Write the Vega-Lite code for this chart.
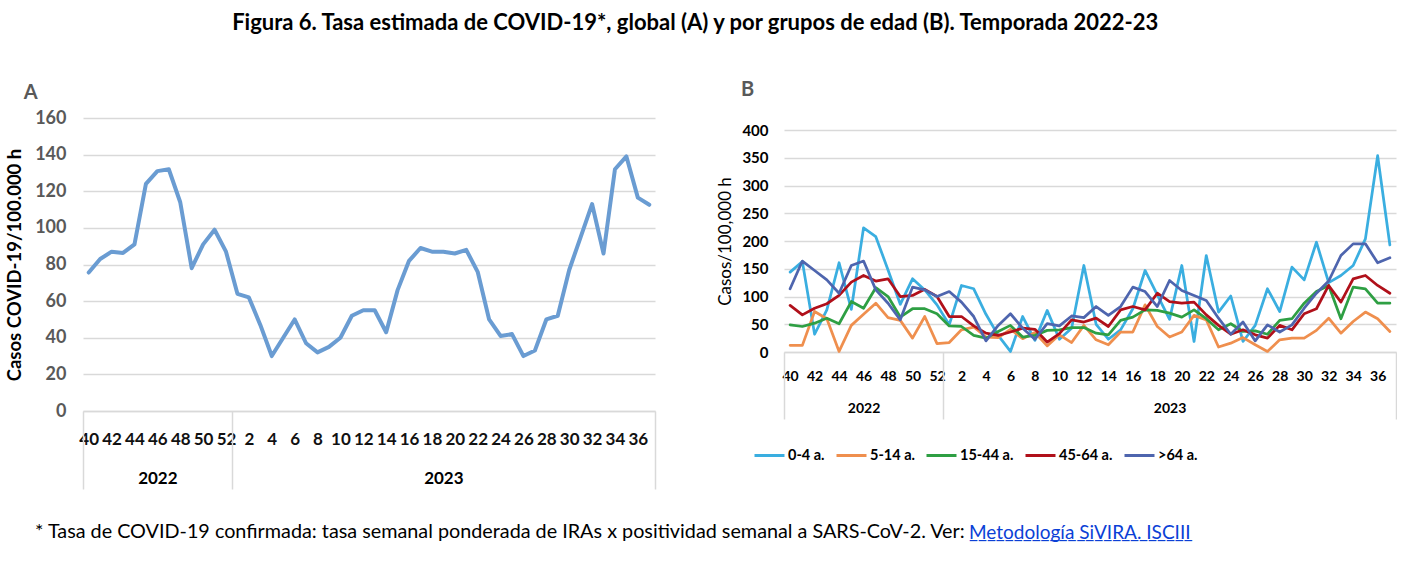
{
  "$schema": "https://vega.github.io/schema/vega-lite/v6.json",
  "padding": {"left": 5, "top": 12, "right": 0, "bottom": 0},
  "config": {
    "font": "Lato",
    "view": {"stroke": null}
  },
  "title": {
    "text": "Figura 6. Tasa estimada de COVID-19*, global (A) y por grupos de edad (B). Temporada 2022-23",
    "fontSize": 22,
    "fontWeight": "bold",
    "color": "#000000",
    "anchor": "middle",
    "dx": -6,
    "offset": 45
  },
  "spacing": 20,
  "resolve": {"scale": {"color": "independent"}, "legend": {"color": "independent"}},
  "datasets": {
    "global": [
      {"idx": 0, "tasa": 75.6}, {"idx": 1, "tasa": 83}, {"idx": 2, "tasa": 87}, {"idx": 3, "tasa": 86.3},
      {"idx": 4, "tasa": 91}, {"idx": 5, "tasa": 124}, {"idx": 6, "tasa": 131}, {"idx": 7, "tasa": 132},
      {"idx": 8, "tasa": 114}, {"idx": 9, "tasa": 78}, {"idx": 10, "tasa": 91}, {"idx": 11, "tasa": 99},
      {"idx": 12, "tasa": 87}, {"idx": 13, "tasa": 64}, {"idx": 14, "tasa": 62}, {"idx": 15, "tasa": 47},
      {"idx": 16, "tasa": 30}, {"idx": 17, "tasa": 40}, {"idx": 18, "tasa": 50}, {"idx": 19, "tasa": 37},
      {"idx": 20, "tasa": 32}, {"idx": 21, "tasa": 35}, {"idx": 22, "tasa": 40}, {"idx": 23, "tasa": 52},
      {"idx": 24, "tasa": 55}, {"idx": 25, "tasa": 55}, {"idx": 26, "tasa": 43}, {"idx": 27, "tasa": 66},
      {"idx": 28, "tasa": 82}, {"idx": 29, "tasa": 89}, {"idx": 30, "tasa": 87}, {"idx": 31, "tasa": 87},
      {"idx": 32, "tasa": 86}, {"idx": 33, "tasa": 88}, {"idx": 34, "tasa": 76}, {"idx": 35, "tasa": 50},
      {"idx": 36, "tasa": 41}, {"idx": 37, "tasa": 42}, {"idx": 38, "tasa": 30}, {"idx": 39, "tasa": 33},
      {"idx": 40, "tasa": 50}, {"idx": 41, "tasa": 52}, {"idx": 42, "tasa": 77}, {"idx": 43, "tasa": 95},
      {"idx": 44, "tasa": 113}, {"idx": 45, "tasa": 86}, {"idx": 46, "tasa": 132}, {"idx": 47, "tasa": 139},
      {"idx": 48, "tasa": 116.5}, {"idx": 49, "tasa": 112.6}
    ],
    "edad": [
      {"idx":0,"grupo":"0-4 a.","tasa":144},{"idx":1,"grupo":"0-4 a.","tasa":163},{"idx":2,"grupo":"0-4 a.","tasa":32},{"idx":3,"grupo":"0-4 a.","tasa":76},{"idx":4,"grupo":"0-4 a.","tasa":161},
      {"idx":5,"grupo":"0-4 a.","tasa":77},{"idx":6,"grupo":"0-4 a.","tasa":224},{"idx":7,"grupo":"0-4 a.","tasa":208},{"idx":8,"grupo":"0-4 a.","tasa":148},{"idx":9,"grupo":"0-4 a.","tasa":86},
      {"idx":10,"grupo":"0-4 a.","tasa":132},{"idx":11,"grupo":"0-4 a.","tasa":112},{"idx":12,"grupo":"0-4 a.","tasa":85},{"idx":13,"grupo":"0-4 a.","tasa":49},{"idx":14,"grupo":"0-4 a.","tasa":120},
      {"idx":15,"grupo":"0-4 a.","tasa":114},{"idx":16,"grupo":"0-4 a.","tasa":68},{"idx":17,"grupo":"0-4 a.","tasa":30},{"idx":18,"grupo":"0-4 a.","tasa":1},{"idx":19,"grupo":"0-4 a.","tasa":64},
      {"idx":20,"grupo":"0-4 a.","tasa":21},{"idx":21,"grupo":"0-4 a.","tasa":75},{"idx":22,"grupo":"0-4 a.","tasa":23},{"idx":23,"grupo":"0-4 a.","tasa":43},{"idx":24,"grupo":"0-4 a.","tasa":156},
      {"idx":25,"grupo":"0-4 a.","tasa":50},{"idx":26,"grupo":"0-4 a.","tasa":23},{"idx":27,"grupo":"0-4 a.","tasa":40},{"idx":28,"grupo":"0-4 a.","tasa":78},{"idx":29,"grupo":"0-4 a.","tasa":147},
      {"idx":30,"grupo":"0-4 a.","tasa":103},{"idx":31,"grupo":"0-4 a.","tasa":59},{"idx":32,"grupo":"0-4 a.","tasa":156},{"idx":33,"grupo":"0-4 a.","tasa":19},{"idx":34,"grupo":"0-4 a.","tasa":174},
      {"idx":35,"grupo":"0-4 a.","tasa":72},{"idx":36,"grupo":"0-4 a.","tasa":101},{"idx":37,"grupo":"0-4 a.","tasa":19},{"idx":38,"grupo":"0-4 a.","tasa":48},{"idx":39,"grupo":"0-4 a.","tasa":114},
      {"idx":40,"grupo":"0-4 a.","tasa":73},{"idx":41,"grupo":"0-4 a.","tasa":153},{"idx":42,"grupo":"0-4 a.","tasa":130},{"idx":43,"grupo":"0-4 a.","tasa":198},{"idx":44,"grupo":"0-4 a.","tasa":125},
      {"idx":45,"grupo":"0-4 a.","tasa":138},{"idx":46,"grupo":"0-4 a.","tasa":156},{"idx":47,"grupo":"0-4 a.","tasa":204},{"idx":48,"grupo":"0-4 a.","tasa":354},{"idx":49,"grupo":"0-4 a.","tasa":193},
      {"idx":0,"grupo":"5-14 a.","tasa":12},{"idx":1,"grupo":"5-14 a.","tasa":12},{"idx":2,"grupo":"5-14 a.","tasa":73},{"idx":3,"grupo":"5-14 a.","tasa":60},{"idx":4,"grupo":"5-14 a.","tasa":1},
      {"idx":5,"grupo":"5-14 a.","tasa":48},{"idx":6,"grupo":"5-14 a.","tasa":68},{"idx":7,"grupo":"5-14 a.","tasa":88},{"idx":8,"grupo":"5-14 a.","tasa":62},{"idx":9,"grupo":"5-14 a.","tasa":57},
      {"idx":10,"grupo":"5-14 a.","tasa":25},{"idx":11,"grupo":"5-14 a.","tasa":64},{"idx":12,"grupo":"5-14 a.","tasa":15},{"idx":13,"grupo":"5-14 a.","tasa":17},{"idx":14,"grupo":"5-14 a.","tasa":40},
      {"idx":15,"grupo":"5-14 a.","tasa":45},{"idx":16,"grupo":"5-14 a.","tasa":27},{"idx":17,"grupo":"5-14 a.","tasa":26},{"idx":18,"grupo":"5-14 a.","tasa":41},{"idx":19,"grupo":"5-14 a.","tasa":24},
      {"idx":20,"grupo":"5-14 a.","tasa":35},{"idx":21,"grupo":"5-14 a.","tasa":11},{"idx":22,"grupo":"5-14 a.","tasa":31},{"idx":23,"grupo":"5-14 a.","tasa":17},{"idx":24,"grupo":"5-14 a.","tasa":48},
      {"idx":25,"grupo":"5-14 a.","tasa":22},{"idx":26,"grupo":"5-14 a.","tasa":13},{"idx":27,"grupo":"5-14 a.","tasa":36},{"idx":28,"grupo":"5-14 a.","tasa":36},{"idx":29,"grupo":"5-14 a.","tasa":85},
      {"idx":30,"grupo":"5-14 a.","tasa":46},{"idx":31,"grupo":"5-14 a.","tasa":27},{"idx":32,"grupo":"5-14 a.","tasa":36},{"idx":33,"grupo":"5-14 a.","tasa":66},{"idx":34,"grupo":"5-14 a.","tasa":58},
      {"idx":35,"grupo":"5-14 a.","tasa":9},{"idx":36,"grupo":"5-14 a.","tasa":16},{"idx":37,"grupo":"5-14 a.","tasa":26},{"idx":38,"grupo":"5-14 a.","tasa":13},{"idx":39,"grupo":"5-14 a.","tasa":1},
      {"idx":40,"grupo":"5-14 a.","tasa":22},{"idx":41,"grupo":"5-14 a.","tasa":25},{"idx":42,"grupo":"5-14 a.","tasa":25},{"idx":43,"grupo":"5-14 a.","tasa":39},{"idx":44,"grupo":"5-14 a.","tasa":61},
      {"idx":45,"grupo":"5-14 a.","tasa":34},{"idx":46,"grupo":"5-14 a.","tasa":55},{"idx":47,"grupo":"5-14 a.","tasa":72},{"idx":48,"grupo":"5-14 a.","tasa":60},{"idx":49,"grupo":"5-14 a.","tasa":37},
      {"idx":0,"grupo":"15-44 a.","tasa":49},{"idx":1,"grupo":"15-44 a.","tasa":46},{"idx":2,"grupo":"15-44 a.","tasa":52},{"idx":3,"grupo":"15-44 a.","tasa":61},{"idx":4,"grupo":"15-44 a.","tasa":51},
      {"idx":5,"grupo":"15-44 a.","tasa":91},{"idx":6,"grupo":"15-44 a.","tasa":79},{"idx":7,"grupo":"15-44 a.","tasa":116},{"idx":8,"grupo":"15-44 a.","tasa":100},{"idx":9,"grupo":"15-44 a.","tasa":63},
      {"idx":10,"grupo":"15-44 a.","tasa":78},{"idx":11,"grupo":"15-44 a.","tasa":78},{"idx":12,"grupo":"15-44 a.","tasa":69},{"idx":13,"grupo":"15-44 a.","tasa":47},{"idx":14,"grupo":"15-44 a.","tasa":46},
      {"idx":15,"grupo":"15-44 a.","tasa":30},{"idx":16,"grupo":"15-44 a.","tasa":25},{"idx":17,"grupo":"15-44 a.","tasa":37},{"idx":18,"grupo":"15-44 a.","tasa":48},{"idx":19,"grupo":"15-44 a.","tasa":27},
      {"idx":20,"grupo":"15-44 a.","tasa":30},{"idx":21,"grupo":"15-44 a.","tasa":39},{"idx":22,"grupo":"15-44 a.","tasa":40},{"idx":23,"grupo":"15-44 a.","tasa":44},{"idx":24,"grupo":"15-44 a.","tasa":44},
      {"idx":25,"grupo":"15-44 a.","tasa":34},{"idx":26,"grupo":"15-44 a.","tasa":31},{"idx":27,"grupo":"15-44 a.","tasa":57},{"idx":28,"grupo":"15-44 a.","tasa":63},{"idx":29,"grupo":"15-44 a.","tasa":76},
      {"idx":30,"grupo":"15-44 a.","tasa":75},{"idx":31,"grupo":"15-44 a.","tasa":70},{"idx":32,"grupo":"15-44 a.","tasa":63},{"idx":33,"grupo":"15-44 a.","tasa":76},{"idx":34,"grupo":"15-44 a.","tasa":60},
      {"idx":35,"grupo":"15-44 a.","tasa":40},{"idx":36,"grupo":"15-44 a.","tasa":51},{"idx":37,"grupo":"15-44 a.","tasa":37},{"idx":38,"grupo":"15-44 a.","tasa":38},{"idx":39,"grupo":"15-44 a.","tasa":32},
      {"idx":40,"grupo":"15-44 a.","tasa":57},{"idx":41,"grupo":"15-44 a.","tasa":60},{"idx":42,"grupo":"15-44 a.","tasa":88},{"idx":43,"grupo":"15-44 a.","tasa":109},{"idx":44,"grupo":"15-44 a.","tasa":120},
      {"idx":45,"grupo":"15-44 a.","tasa":60},{"idx":46,"grupo":"15-44 a.","tasa":117},{"idx":47,"grupo":"15-44 a.","tasa":114},{"idx":48,"grupo":"15-44 a.","tasa":88},{"idx":49,"grupo":"15-44 a.","tasa":88},
      {"idx":0,"grupo":"45-64 a.","tasa":84},{"idx":1,"grupo":"45-64 a.","tasa":67},{"idx":2,"grupo":"45-64 a.","tasa":79},{"idx":3,"grupo":"45-64 a.","tasa":87},{"idx":4,"grupo":"45-64 a.","tasa":102},
      {"idx":5,"grupo":"45-64 a.","tasa":126},{"idx":6,"grupo":"45-64 a.","tasa":138},{"idx":7,"grupo":"45-64 a.","tasa":128},{"idx":8,"grupo":"45-64 a.","tasa":132},{"idx":9,"grupo":"45-64 a.","tasa":100},
      {"idx":10,"grupo":"45-64 a.","tasa":102},{"idx":11,"grupo":"45-64 a.","tasa":113},{"idx":12,"grupo":"45-64 a.","tasa":100},{"idx":13,"grupo":"45-64 a.","tasa":64},{"idx":14,"grupo":"45-64 a.","tasa":64},
      {"idx":15,"grupo":"45-64 a.","tasa":47},{"idx":16,"grupo":"45-64 a.","tasa":34},{"idx":17,"grupo":"45-64 a.","tasa":30},{"idx":18,"grupo":"45-64 a.","tasa":36},{"idx":19,"grupo":"45-64 a.","tasa":43},
      {"idx":20,"grupo":"45-64 a.","tasa":41},{"idx":21,"grupo":"45-64 a.","tasa":18},{"idx":22,"grupo":"45-64 a.","tasa":33},{"idx":23,"grupo":"45-64 a.","tasa":58},{"idx":24,"grupo":"45-64 a.","tasa":54},
      {"idx":25,"grupo":"45-64 a.","tasa":61},{"idx":26,"grupo":"45-64 a.","tasa":46},{"idx":27,"grupo":"45-64 a.","tasa":76},{"idx":28,"grupo":"45-64 a.","tasa":82},{"idx":29,"grupo":"45-64 a.","tasa":76},
      {"idx":30,"grupo":"45-64 a.","tasa":106},{"idx":31,"grupo":"45-64 a.","tasa":91},{"idx":32,"grupo":"45-64 a.","tasa":88},{"idx":33,"grupo":"45-64 a.","tasa":90},{"idx":34,"grupo":"45-64 a.","tasa":67},
      {"idx":35,"grupo":"45-64 a.","tasa":48},{"idx":36,"grupo":"45-64 a.","tasa":32},{"idx":37,"grupo":"45-64 a.","tasa":40},{"idx":38,"grupo":"45-64 a.","tasa":31},{"idx":39,"grupo":"45-64 a.","tasa":25},
      {"idx":40,"grupo":"45-64 a.","tasa":48},{"idx":41,"grupo":"45-64 a.","tasa":40},{"idx":42,"grupo":"45-64 a.","tasa":69},{"idx":43,"grupo":"45-64 a.","tasa":78},{"idx":44,"grupo":"45-64 a.","tasa":120},
      {"idx":45,"grupo":"45-64 a.","tasa":90},{"idx":46,"grupo":"45-64 a.","tasa":132},{"idx":47,"grupo":"45-64 a.","tasa":138},{"idx":48,"grupo":"45-64 a.","tasa":120},{"idx":49,"grupo":"45-64 a.","tasa":106},
      {"idx":0,"grupo":">64 a.","tasa":114},{"idx":1,"grupo":">64 a.","tasa":164},{"idx":2,"grupo":">64 a.","tasa":147},{"idx":3,"grupo":">64 a.","tasa":130},{"idx":4,"grupo":">64 a.","tasa":106},
      {"idx":5,"grupo":">64 a.","tasa":156},{"idx":6,"grupo":">64 a.","tasa":164},{"idx":7,"grupo":">64 a.","tasa":112},{"idx":8,"grupo":">64 a.","tasa":88},{"idx":9,"grupo":">64 a.","tasa":58},
      {"idx":10,"grupo":">64 a.","tasa":117},{"idx":11,"grupo":">64 a.","tasa":112},{"idx":12,"grupo":">64 a.","tasa":100},{"idx":13,"grupo":">64 a.","tasa":109},{"idx":14,"grupo":">64 a.","tasa":90},
      {"idx":15,"grupo":">64 a.","tasa":64},{"idx":16,"grupo":">64 a.","tasa":20},{"idx":17,"grupo":">64 a.","tasa":48},{"idx":18,"grupo":">64 a.","tasa":69},{"idx":19,"grupo":">64 a.","tasa":43},
      {"idx":20,"grupo":">64 a.","tasa":23},{"idx":21,"grupo":">64 a.","tasa":51},{"idx":22,"grupo":">64 a.","tasa":47},{"idx":23,"grupo":">64 a.","tasa":65},{"idx":24,"grupo":">64 a.","tasa":62},
      {"idx":25,"grupo":">64 a.","tasa":82},{"idx":26,"grupo":">64 a.","tasa":66},{"idx":27,"grupo":">64 a.","tasa":82},{"idx":28,"grupo":">64 a.","tasa":117},{"idx":29,"grupo":">64 a.","tasa":109},
      {"idx":30,"grupo":">64 a.","tasa":82},{"idx":31,"grupo":">64 a.","tasa":129},{"idx":32,"grupo":">64 a.","tasa":111},{"idx":33,"grupo":">64 a.","tasa":102},{"idx":34,"grupo":">64 a.","tasa":93},
      {"idx":35,"grupo":">64 a.","tasa":61},{"idx":36,"grupo":">64 a.","tasa":32},{"idx":37,"grupo":">64 a.","tasa":54},{"idx":38,"grupo":">64 a.","tasa":20},{"idx":39,"grupo":">64 a.","tasa":49},
      {"idx":40,"grupo":">64 a.","tasa":36},{"idx":41,"grupo":">64 a.","tasa":49},{"idx":42,"grupo":">64 a.","tasa":79},{"idx":43,"grupo":">64 a.","tasa":106},{"idx":44,"grupo":">64 a.","tasa":128},
      {"idx":45,"grupo":">64 a.","tasa":174},{"idx":46,"grupo":">64 a.","tasa":195},{"idx":47,"grupo":">64 a.","tasa":195},{"idx":48,"grupo":">64 a.","tasa":161},{"idx":49,"grupo":">64 a.","tasa":170}
    ],
    "nota": [
      {"parte": "texto", "texto": "* Tasa de COVID-19 confirmada: tasa semanal ponderada de IRAs x positividad semanal a SARS-CoV-2. Ver:"}
    ]
  },
  "vconcat": [
    {
      "spacing": 60,
      "resolve": {"scale": {"color": "independent"}, "legend": {"color": "independent"}},
      "hconcat": [
        {
          "width": 572,
          "height": 293,
          "title": {"text": "A", "anchor": "start", "dx": 18, "fontSize": 20, "fontWeight": "bold", "color": "#595959", "offset": 6},
          "data": {"name": "global"},
          "encoding": {
            "y": {
              "field": "tasa", "type": "quantitative",
              "scale": {"domain": [0, 160], "nice": false},
              "axis": {
                "values": [0,20,40,60,80,100,120,140,160],
                "title": "Casos COVID-19/100.000 h", "titleFontSize": 18.5, "titleFontWeight": "bold", "titleColor": "#000000", "titlePadding": 10,
                "grid": true, "gridColor": "#D9D9D9", "gridWidth": 1.5,
                "domain": false, "ticks": false, "tickSize": 0,
                "labelFontSize": 18, "labelFontWeight": "bold", "labelColor": "#595959", "labelPadding": 17
              }
            }
          },
          "layer": [
            {
              "mark": {"type": "line", "color": "#6A9CD2", "strokeWidth": 4, "strokeJoin": "round", "strokeCap": "round"},
              "encoding": {
                "x": {
                  "field": "idx", "type": "quantitative",
                  "scale": {"domain": [-0.5, 49.5], "nice": false, "zero": false},
                  "axis": {
                    "orient": "bottom",
                    "values": [0,2,4,6,8,10,12,14,16,18,20,22,24,26,28,30,32,34,36,38,40,42,44,46,48],
                    "labelExpr": "datum.value <= 12 ? toString(40 + datum.value) : toString(datum.value - 12)",
                    "title": null, "grid": false, "ticks": false, "tickSize": 0,
                    "domain": true, "domainColor": "#D9D9D9", "domainWidth": 1.5,
                    "labelFontSize": 17, "labelFontWeight": "bold", "labelColor": "#111111",
                    "labelPadding": 20, "labelFlush": false, "labelOverlap": false
                  }
                }
              }
            },
            {
              "mark": {"type": "line", "opacity": 0},
              "encoding": {
                "x": {
                  "field": "idx", "type": "quantitative",
                  "axis": {"orient": "bottom", "values": [-0.5, 12.5, 49.5], "labels": false, "title": null, "grid": false, "domain": false, "ticks": true, "tickSize": 78, "tickColor": "#D9D9D9", "tickWidth": 1.5}
                }
              }
            },
            {
              "mark": {"type": "line", "opacity": 0},
              "encoding": {
                "x": {
                  "field": "idx", "type": "quantitative",
                  "axis": {"orient": "bottom", "values": [6, 31], "labelExpr": "datum.value < 12 ? '2022' : '2023'", "title": null, "grid": false, "domain": false, "ticks": false, "tickSize": 0, "labelFontSize": 17, "labelFontWeight": "bold", "labelColor": "#000000", "labelPadding": 59, "labelFlush": false}
                }
              }
            }
          ],
          "resolve": {"axis": {"x": "independent"}}
        },
        {
          "width": 612,
          "height": 234,
          "title": {"text": "B", "anchor": "start", "dx": 24, "fontSize": 20, "fontWeight": "bold", "color": "#595959", "offset": 18},
          "data": {"name": "edad"},
          "encoding": {
            "y": {
              "field": "tasa", "type": "quantitative",
              "scale": {"domain": [0, 422], "nice": false},
              "axis": {
                "values": [0,50,100,150,200,250,300,350,400],
                "title": "Casos/100,000 h", "titleFontSize": 17, "titleFontWeight": "normal", "titleColor": "#000000", "titlePadding": 7, "titleY": 123,
                "grid": true, "gridColor": "#D9D9D9", "gridWidth": 1.5,
                "domain": false, "ticks": false, "tickSize": 0,
                "labelFontSize": 15, "labelFontWeight": "bold", "labelColor": "#000000", "labelPadding": 16
              }
            },
            "detail": {"field": "grupo", "type": "nominal"}
          },
          "layer": [
            {
              "mark": {"type": "line", "strokeWidth": 2.75, "strokeJoin": "round", "strokeCap": "round"},
              "encoding": {
                "x": {
                  "field": "idx", "type": "quantitative",
                  "scale": {"domain": [-0.5, 49.5], "nice": false, "zero": false},
                  "axis": {
                    "orient": "bottom",
                    "values": [0,2,4,6,8,10,12,14,16,18,20,22,24,26,28,30,32,34,36,38,40,42,44,46,48],
                    "labelExpr": "datum.value <= 12 ? toString(40 + datum.value) : toString(datum.value - 12)",
                    "title": null, "grid": false, "ticks": false, "tickSize": 0,
                    "domain": true, "domainColor": "#D9D9D9", "domainWidth": 1.5,
                    "labelFontSize": 14, "labelFontWeight": "bold", "labelColor": "#000000",
                    "labelPadding": 17, "labelFlush": false, "labelOverlap": false
                  }
                },
                "color": {
                  "field": "grupo", "type": "nominal",
                  "scale": {
                    "domain": ["0-4 a.", "5-14 a.", "15-44 a.", "45-64 a.", ">64 a."],
                    "range": ["#3AAEE0", "#EF8F4E", "#2E9F43", "#B0101A", "#4E65AE"]
                  },
                  "legend": {
                    "orient": "none", "legendX": -31, "legendY": 321, "direction": "horizontal", "columns": 5,
                    "title": null, "symbolType": "stroke", "symbolSize": 900, "symbolStrokeWidth": 3,
                    "labelFontSize": 14.5, "labelFontWeight": "bold", "labelColor": "#000000", "labelOffset": 2, "columnPadding": 5
                  }
                }
              }
            },
            {
              "mark": {"type": "line", "opacity": 0},
              "encoding": {
                "x": {
                  "field": "idx", "type": "quantitative",
                  "axis": {"orient": "bottom", "values": [-0.5, 12.5, 49.5], "labels": false, "title": null, "grid": false, "domain": false, "ticks": true, "tickSize": 67, "tickColor": "#D9D9D9", "tickWidth": 1.5}
                }
              }
            },
            {
              "mark": {"type": "line", "opacity": 0},
              "encoding": {
                "x": {
                  "field": "idx", "type": "quantitative",
                  "axis": {"orient": "bottom", "values": [6, 31], "labelExpr": "datum.value < 12 ? '2022' : '2023'", "title": null, "grid": false, "domain": false, "ticks": false, "tickSize": 0, "labelFontSize": 14, "labelFontWeight": "bold", "labelColor": "#000000", "labelPadding": 49, "labelFlush": false}
                }
              }
            }
          ],
          "resolve": {"axis": {"x": "independent"}}
        }
      ]
    },
    {
      "width": 1300,
      "height": 40,
      "data": {"name": "nota"},
      "title": {
        "text": "Metodología SiVIRA. ISCIII",
        "subtitle": "_________________________",
        "anchor": "start", "frame": "group", "orient": "top",
        "dx": 886, "dy": 35, "offset": 0, "baseline": "top",
        "fontSize": 19, "fontWeight": "normal", "color": "#0B3FD6", "lineHeight": 20,
        "subtitleFontSize": 19.5, "subtitleColor": "#0B3FD6", "subtitlePadding": -20, "subtitleLineHeight": 20
      },
      "mark": {"type": "text", "align": "left", "baseline": "middle", "fontSize": 19.8, "color": "#000000"},
      "encoding": {
        "text": {"field": "texto"},
        "x": {"field": "parte", "type": "nominal", "scale": {"range": [-48, -48]}, "axis": null},
        "y": {"value": 22}
      }
    }
  ]
}
